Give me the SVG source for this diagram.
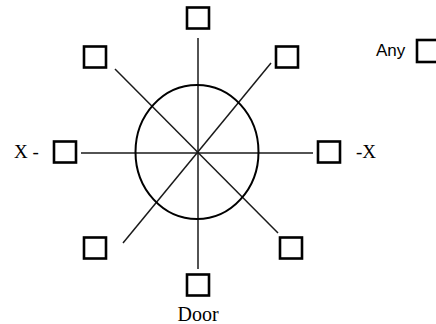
<svg xmlns="http://www.w3.org/2000/svg" width="436" height="324" viewBox="0 0 436 324">
<style>
.box{fill:#fff;stroke:#000;stroke-width:2.6}
.ln{stroke:#1a1a1a;stroke-width:1.5;fill:none}
.ser{font-family:"Liberation Serif",serif;font-size:19px;fill:#000}
.sans{font-family:"Liberation Sans",sans-serif;font-size:17px;fill:#000}
</style>
<rect width="436" height="324" fill="#fff"/>
<g id="connectors">
<line class="ln" x1="198" y1="38" x2="198" y2="269"/>
<line class="ln" x1="81" y1="153" x2="313" y2="153"/>
<line class="ln" x1="115" y1="69" x2="278" y2="233"/>
<line class="ln" x1="271" y1="63" x2="123" y2="243"/>
</g>
<g id="circle">
<ellipse cx="197" cy="152" rx="61.5" ry="67" fill="none" stroke="#000" stroke-width="2"/>
</g>
<g id="node-top"><rect class="box" x="187" y="7.5" width="22" height="21"/></g>
<g id="node-upper-left"><rect class="box" x="84" y="46.5" width="22" height="21"/></g>
<g id="node-upper-right"><rect class="box" x="276" y="46.5" width="22" height="21"/></g>
<g id="node-left"><rect class="box" x="54" y="141.5" width="22" height="21"/><text class="ser" x="14" y="158">X -</text></g>
<g id="node-right"><rect class="box" x="318" y="141.5" width="22" height="21"/><text class="ser" x="356" y="158">-X</text></g>
<g id="node-lower-left"><rect class="box" x="84" y="237.5" width="22" height="21"/></g>
<g id="node-lower-right"><rect class="box" x="280" y="237.5" width="22" height="21"/></g>
<g id="node-bottom"><rect class="box" x="187" y="274.5" width="22" height="21"/><text class="ser" x="198" y="321" text-anchor="middle" style="font-size:20px">Door</text></g>
<g id="node-any"><text class="sans" x="376" y="56">Any</text><rect class="box" x="417" y="40" width="22" height="22"/></g>
</svg>
